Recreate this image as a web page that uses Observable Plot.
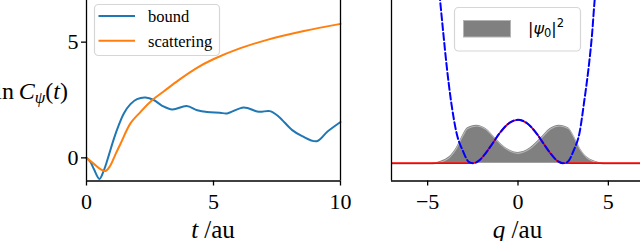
<!DOCTYPE html>
<html><head><meta charset="utf-8">
<script src="https://cdn.jsdelivr.net/npm/d3@7"></script>
<script src="https://cdn.jsdelivr.net/npm/@observablehq/plot@0.6"></script>
<style>
html,body{margin:0;padding:0;background:#fff;}
#wrap{position:relative;width:640px;height:241px;overflow:hidden;background:#fff;}
#wrap > svg{position:absolute;top:0;}
</style>
</head><body><div id="wrap"></div>
<script>
// ---- left panel data: ln C_psi(t) ----
const tBound = [0,0.16,0.29,0.51,0.68,0.88,1.08,1.27,1.47,1.73,1.99,2.32,2.65,2.98,3.38,3.94,4.36,4.75,5.25,5.54,6.19,6.78,7.22,7.57,8.1,8.49,9.06,9.48,10];
const vBound = [0,-0.19,-0.48,-0.91,-0.55,0.12,0.83,1.41,1.92,2.32,2.54,2.61,2.5,2.25,2.09,2.24,2.06,1.98,1.95,1.92,2.18,1.99,2.02,1.78,1.2,0.94,0.72,1.13,1.55];
const tScat = [0,0.29,0.55,0.75,0.94,1.14,1.34,1.73,2.13,2.59,3.05,3.63,4.3,4.99,6.06,7.11,8.56,10];
const vScat = [0,-0.26,-0.49,-0.57,-0.33,0.15,0.61,1.49,1.99,2.5,2.88,3.36,3.86,4.26,4.74,5.1,5.48,5.79];
const xDomainL = [0,10], yDomainL = [-1,6.8];
const xTicksL = [0,5,10], yTicksL = [0,5];
const seriesNames = ["bound","scattering"];
const seriesColors = ["#1f77b4","#ff7f0e"];

// ---- right panel data: potentials and |psi0|^2 ----
const qV = [-4.45,-4.31,-4.13,-3.94,-3.71,-3.39,-3.06,-2.7,-2.48,-2.2,-1.8,-1.4,-1.0,-0.5,0,0.5,1.0,1.4,1.8,2.2,2.48,2.72,3.08,3.41,3.67,3.91,4.1,4.24,4.4];
const vV = [19.0,16.27,12.94,9.6,6.27,2.94,1.27,0.1,0,0.2,0.97,2.0,3.04,4.0,4.34,4.0,3.04,2.0,0.97,0.2,0,0.1,1.27,3.1,6.27,9.6,12.94,16.27,19.0];
const qR = [-7,-2.48,-2.2,-1.8,-1.4,-1.0,-0.5,0,0.5,1.0,1.4,1.8,2.2,2.48,7];
const vR = [0,0,0.2,0.97,2.0,3.04,4.0,4.34,4.0,3.04,2.0,0.97,0.2,0,0];
const qG = [-7,-4.9,-4.71,-4.26,-4.0,-3.8,-3.43,-3.06,-2.79,-2.29,-1.78,-1.23,-0.68,0,0.68,1.23,1.78,2.29,2.79,3.06,3.43,3.8,4.0,4.26,4.71,4.9,7];
const hG = [0,0,0.02,0.2,0.4,0.64,1.47,2.8,3.54,3.8,3.47,2.47,1.54,1.07,1.54,2.47,3.47,3.8,3.54,2.8,1.47,0.64,0.4,0.2,0.02,0,0];
const xDomainR = [-7,7], yDomainR = [-1.78,16.27];
const xTicksR = [-5,0,5];

const bound = tBound.map((t,i)=>({t, v:vBound[i]}));
const scat = tScat.map((t,i)=>({t, v:vScat[i]}));
const pot = qV.map((q,i)=>({q, v:vV[i]}));
const red = qR.map((q,i)=>({q, v:vR[i]}));
const dens = qG.map((q,i)=>({q, h:hG[i]}));

const fmt = d => d < 0 ? "\u2212" + (-d) : String(d);
const axStyle = {fontFamily:"'Liberation Serif', serif", fontSize:"22px", color:"#000", background:"transparent", overflow:"visible"};

const left = Plot.plot({
  width:360, height:241, marginLeft:86, marginRight:20, marginTop:0, marginBottom:60.5,
  x:{domain:xDomainL}, y:{domain:yDomainL},
  style:axStyle,
  marks:[
    Plot.line(bound,{x:"t",y:"v",stroke:seriesColors[0],strokeWidth:2,curve:"catmull-rom"}),
    Plot.line(scat,{x:"t",y:"v",stroke:seriesColors[1],strokeWidth:2,curve:"catmull-rom"}),
    Plot.ruleX(xDomainL,{stroke:"#000",strokeWidth:1.3}),
    Plot.ruleY([yDomainL[0]],{stroke:"#000",strokeWidth:1.3}),
    Plot.axisX({ticks:xTicksL,tickSize:5,tickPadding:7,label:null,tickFormat:fmt,strokeWidth:1.3}),
    Plot.axisY({ticks:yTicksL,tickSize:5,tickPadding:3,label:null,tickFormat:fmt,strokeWidth:1.3})
  ]
});
left.style.left = "0px";

const right = Plot.plot({
  width:290, height:241, marginLeft:31, marginRight:6, marginTop:0, marginBottom:60.5,
  x:{domain:xDomainR}, y:{domain:yDomainR, axis:null},
  style:axStyle,
  marks:[
    Plot.areaY(dens,{x:"q",y:"h",fill:"#808080",curve:"monotone-x",clip:true}),
    Plot.line(dens,{x:"q",y:"h",stroke:"#b4b4b4",strokeWidth:1.2,curve:"monotone-x",dy:0.8,clip:true}),
    Plot.line(red,{x:"q",y:"v",stroke:"#ff0000",strokeWidth:1.8,curve:"monotone-x",clip:true}),
    Plot.line(pot,{x:"q",y:"v",stroke:"#0000ff",strokeWidth:2,strokeDasharray:"7,3",curve:"monotone-x",clip:true}),
    Plot.ruleX([xDomainR[0]],{stroke:"#000",strokeWidth:1.3}),
    Plot.ruleY([yDomainR[0]],{stroke:"#000",strokeWidth:1.3}),
    Plot.axisX({ticks:xTicksR,tickSize:5,tickPadding:7,label:null,tickFormat:fmt,strokeWidth:1.3})
  ]
});
right.style.left = "360px";

const wrap = document.getElementById("wrap");
wrap.appendChild(left);
wrap.appendChild(right);

// ---- overlay: axis labels and legends ----
const ov = d3.select(wrap).append("svg")
  .attr("width",640).attr("height",241)
  .style("position","absolute").style("left","0px").style("top","0px")
  .style("pointer-events","none");

const serif = "'Liberation Serif', serif";
// y label  ln C_psi(t)
const yl = ov.append("text").attr("x",68).attr("y",98.5).attr("text-anchor","end")
  .attr("font-family",serif).attr("font-size",24).attr("fill","#000");
yl.append("tspan").text("ln\u2009");
yl.append("tspan").attr("font-style","italic").text("C");
yl.append("tspan").attr("font-style","italic").attr("font-size",17).attr("dy",4).text("\u03c8");
yl.append("tspan").attr("dy",-4).text("(");
yl.append("tspan").attr("font-style","italic").text("t");
yl.append("tspan").text(")");

function xlab(cx, v){
  const t = ov.append("text").attr("x",cx).attr("y",238).attr("text-anchor","middle")
    .attr("font-family",serif).attr("font-size",25).attr("fill","#000");
  t.append("tspan").attr("font-style","italic").text(v);
  t.append("tspan").text(" /au");
}
xlab(213,"t");
xlab(517.5,"q");

// left legend
ov.append("rect").attr("x",94.5).attr("y",4.5).attr("width",125).attr("height",51).attr("rx",4)
  .attr("fill","#fff").attr("fill-opacity",0.8).attr("stroke","#d6d6d6").attr("stroke-width",1.2);
seriesNames.forEach((name,i)=>{
  const y = 16 + i*24.7;
  ov.append("line").attr("x1",98.5).attr("x2",135).attr("y1",y).attr("y2",y)
    .attr("stroke",seriesColors[i]).attr("stroke-width",2);
  ov.append("text").attr("x",148).attr("y",y+5.8).attr("font-family",serif).attr("font-size",16.5)
    .attr("fill","#000").text(name);
});

// right legend
ov.append("rect").attr("x",454.5).attr("y",7.5).attr("width",126).attr("height",43.5).attr("rx",4)
  .attr("fill","#fff").attr("fill-opacity",0.8).attr("stroke","#d6d6d6").attr("stroke-width",1.2);
ov.append("rect").attr("x",463.5).attr("y",20.5).attr("width",47).attr("height",16.5)
  .attr("fill","#808080").attr("stroke","#b4b4b4").attr("stroke-width",1);
const lt = ov.append("text").attr("x",528).attr("y",33.5).attr("font-family","'DejaVu Sans', sans-serif")
  .attr("font-size",16).attr("fill","#000");
lt.append("tspan").text("|");
lt.append("tspan").attr("font-style","italic").text("\u03c8");
lt.append("tspan").attr("font-size",11.5).attr("dy",3).text("0");
lt.append("tspan").attr("dy",-3).text("|");
lt.append("tspan").attr("font-size",11.5).attr("dy",-7).text("2");
</script>
</body></html>
